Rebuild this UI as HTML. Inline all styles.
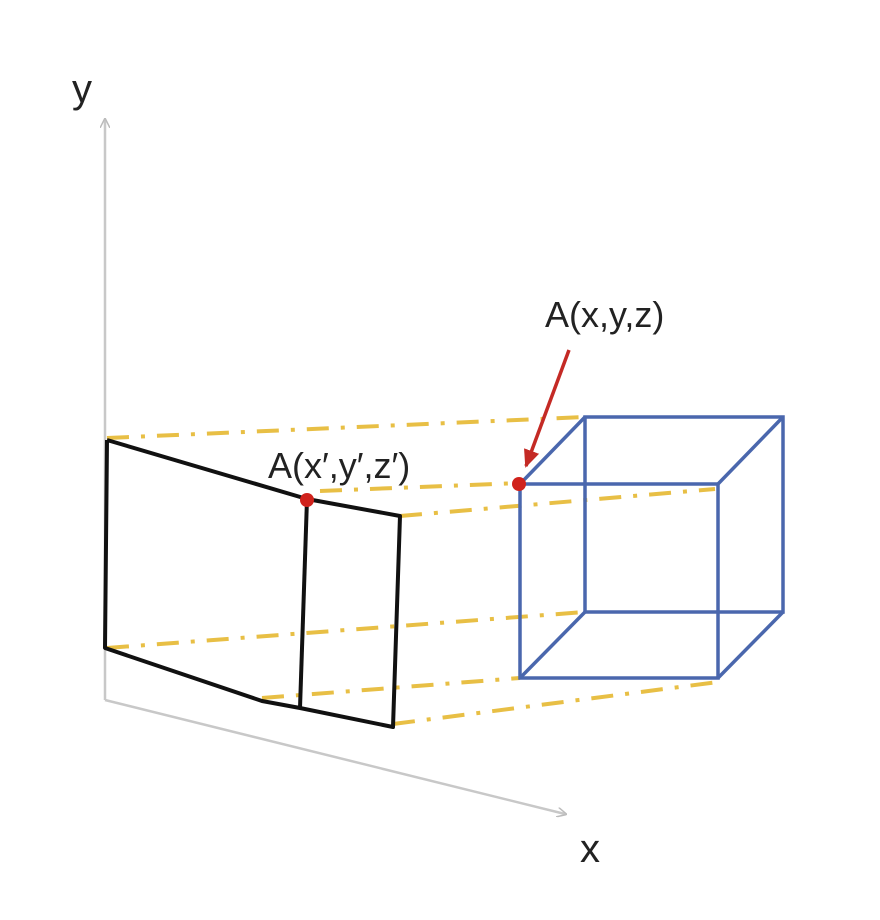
<!DOCTYPE html>
<html><head><meta charset="utf-8"><style>
html,body{margin:0;padding:0;background:#fff;}
svg{display:block;}
text{font-family:"Liberation Sans",sans-serif;fill:#222;}
</style></head><body>
<svg width="880" height="920" viewBox="0 0 880 920">
<defs>
<marker id="ga" markerWidth="10" markerHeight="10" refX="8" refY="5" orient="auto" markerUnits="userSpaceOnUse" viewBox="0 0 10 10"><path d="M0,0 L10,5 L0,10" fill="none" stroke="#bbb" stroke-width="1.5"/></marker>
<marker id="ra" markerWidth="18" markerHeight="18" refX="16" refY="9" orient="auto" markerUnits="userSpaceOnUse" viewBox="0 0 18 18"><path d="M0,1 L18,9 L0,17 Z" fill="#c42a25"/></marker>
</defs>
<g>
<line x1="105" y1="700" x2="105" y2="120" stroke="#c8c8c8" stroke-width="2.5" marker-end="url(#ga)"/>
<line x1="105" y1="700" x2="565" y2="814" stroke="#c8c8c8" stroke-width="2.5" marker-end="url(#ga)"/>
<text x="72" y="102" font-size="40">y</text>
<text x="580" y="862" font-size="40">x</text>
</g>
<g stroke="#e8bf45" stroke-width="4" stroke-dasharray="22,12,4,12" fill="none">
<line x1="107" y1="438" x2="585" y2="417"/>
<line x1="320" y1="491" x2="519" y2="483"/>
<line x1="400" y1="516" x2="715" y2="489"/>
<line x1="107" y1="648" x2="585" y2="612"/>
<line x1="262" y1="698" x2="520" y2="678"/>
<line x1="393" y1="724" x2="718" y2="682"/>
</g>
<g stroke="#111" stroke-width="4" fill="none" stroke-linejoin="round">
<polyline points="107,440 307,499 400,516 393,727 300,708 262,701 105,648 107,440"/>
<line x1="307" y1="499" x2="300" y2="708"/>
</g>
<g stroke="#4a67ad" stroke-width="3.5" fill="none">
<rect x="520" y="484" width="198" height="194"/>
<rect x="585" y="417" width="198" height="195"/>
<line x1="520" y1="484" x2="585" y2="417"/>
<line x1="718" y1="484" x2="783" y2="417"/>
<line x1="520" y1="678" x2="585" y2="612"/>
<line x1="718" y1="678" x2="783" y2="612"/>
</g>
<circle cx="307" cy="500" r="7" fill="#d0221c"/>
<circle cx="519" cy="484" r="7" fill="#d0221c"/>
<line x1="569" y1="350" x2="526" y2="466" stroke="#c42a25" stroke-width="3.5" marker-end="url(#ra)"/>
<text x="545" y="327" font-size="36">A(x,y,z)</text>
<text x="268" y="478" font-size="36">A(x′,y′,z′)</text>
</svg>
</body></html>
